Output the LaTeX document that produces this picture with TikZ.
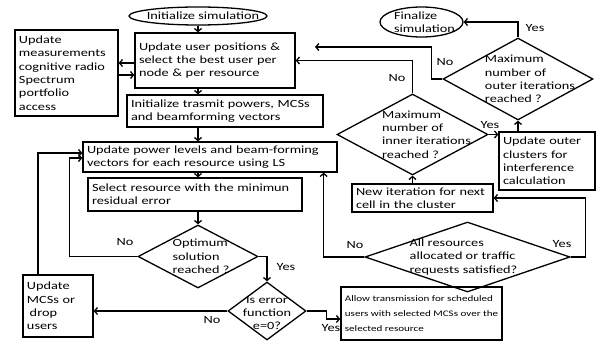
\documentclass[tikz,border=0pt]{standalone}
\usepackage{fontspec}
\setmainfont{Carlito}[FakeStretch=1.3]
\usetikzlibrary{shapes.geometric, arrows.meta}

\tikzset{
    block/.style={draw, rectangle, line width=1.3pt, align=left, inner xsep=4pt, inner ysep=2pt},
    decision/.style={draw, diamond, line width=1.3pt, inner sep=0pt},
    terminal/.style={draw, ellipse, line width=1.3pt, inner sep=0pt},
    flow/.style={-{Straight Barb[length=3pt,width=7pt]}, line width=1.3pt},
    lbl/.style={inner sep=1pt}
}

\begin{document}
\begin{tikzpicture}[x=1pt, y=-1pt, font=\fontsize{11pt}{13.3pt}\selectfont]
    \useasboundingbox (0, 0) rectangle (600, 350);

    % Debut et fin
    \node[terminal, minimum width=138pt, minimum height=18pt, label={[xshift=5pt]center:Initialize simulation}] (init) at (198, 16) {};
    \node[terminal, minimum width=83pt, minimum height=30pt, label={[align=left, xshift=3pt]center:Finalize\\simulation}] (fin) at (421.5, 22) {};

    % Colonne principale
    \node[block, text width=95pt, minimum height=86pt] (meas) at (66.5, 73) {Update\\measurements\\cognitive radio\\Spectrum\\portfolio\\access};
    \node[block, text width=152pt, minimum height=55pt] (user) at (215, 60.5) {Update user positions \&\\select the best user per\\node \& per resource};
    \node[block, text width=188pt, minimum height=32pt] (initp) at (225, 111) {Initialize trasmit powers, MCSs\\and beamforming vectors};
    \node[block, text width=246pt, minimum height=30pt] (upd) at (210, 157) {Update power levels and beam-forming\\vectors for each resource using LS};
    \node[block, text width=206pt, minimum height=33pt] (sel) at (195, 194.5) {Select resource with the minimun\\residual error};
    \node[decision, minimum width=120pt, minimum height=63pt, label={[align=left, xshift=3pt]center:Optimum\\solution\\reached ?}] (opt) at (198, 256.5) {};
    \node[decision, minimum width=78pt, minimum height=58pt, label={[align=center, yshift=-2pt]center:Is error\\function\\e=0?}] (err) at (267, 311) {};
    \node[block, text width=62pt, minimum height=62pt] (mcs) at (58, 306) {Update\\MCSs or\\\hspace{0.25em}drop\\users};
    \node[block, minimum width=157pt, minimum height=53pt, font=\fontsize{8.5pt}{15pt}\selectfont] (allow) at (421.5, 313.5) {Allow transmission for scheduled\\users with selected MCSs over the\\selected resource};

    % Boucles interne et externe
    \node[decision, minimum width=205pt, minimum height=70pt, label={[align=left, xshift=-4pt]center:All resources\\allocated or traffic\\requests satisfied?}] (allres) at (467.5, 257) {};
    \node[block, text width=133pt, minimum height=28pt] (newit) at (422.5, 198) {New iteration for next\\cell in the cluster};
    \node[decision, minimum width=151pt, minimum height=81pt, label={[align=left, xshift=14pt]center:Maximum\\number of\\inner iterations\\reached ?}] (inner) at (412.5, 134.5) {};
    \node[block, text width=88pt, minimum height=58pt] (outer) at (547, 161) {Update outer\\clusters for\\interference\\calculation};
    \node[decision, minimum width=150pt, minimum height=82pt, label={[align=left, xshift=12pt]center:Maximum\\number of\\outer iterations\\reached ?}] (outerd) at (518, 79) {};
    \coordinate (back) at (315, 47);

    % Etiquettes
    \node[lbl] (optno) at (125, 242) {No};
    \node[lbl] (optyes) at (286, 267) {Yes};
    \node[lbl] (errno) at (212, 320) {No};
    \node[lbl] (erryes) at (331, 328) {Yes};
    \node[lbl] (allno) at (355, 245) {No};
    \node[lbl] (allyes) at (562, 244) {Yes};
    \node[lbl] (inyes) at (490, 125) {Yes};
    \node[lbl] (inno) at (397, 78) {No};
    \node[lbl] (outyes) at (535, 28) {Yes};
    \node[lbl] (outno) at (445, 62) {No};

    % Fleches
    \draw[flow] (init) -- (init |- user.north);
    \draw[flow] (user.west |- 0,63) -- (meas.east |- 0,63);
    \draw[flow] (meas.east |- 0,75) -- (user.west |- 0,75);
    \draw[flow] (user.south -| init) -- (initp.north -| init);
    \draw[flow] (initp.south -| init) -- (upd.north -| init);
    \draw[flow] (upd.south -| init) -- (sel.north -| init);
    \draw[flow] (sel.south -| opt) -- (opt);

    \draw[flow] (opt.west) -- ++(-68,0) |- ([yshift=-1pt]upd.west);
    \draw[flow] (opt.east) -| (err.north);
    \draw[flow] (err.west) -- (mcs.east |- err.west);
    \draw[flow] (err.east) -- ++(20,0) |- (allow.west |- 0,319);
    \draw[flow] ([xshift=-20pt]mcs.north) |- ([yshift=4pt]upd.west);

    \draw[flow] (allres.west) -| ([xshift=-14pt]upd.south east);
    \draw[flow] (allres.east) -- ++(15,0) |- (newit.east);
    \draw[flow] (newit.north -| inner) -- (inner);
    \draw[flow] (inner.east) -- (outer.west |- inner.east);
    \draw[flow] (inner.north) |- (user.east);
    \draw[flow] (outer.north -| outerd) -- (outerd);
    \draw[flow] (outerd.north) |- (fin.east);
    \draw[flow] (outerd.west) -- ++(-11,0) |- (back);

\end{tikzpicture}
\end{document}
